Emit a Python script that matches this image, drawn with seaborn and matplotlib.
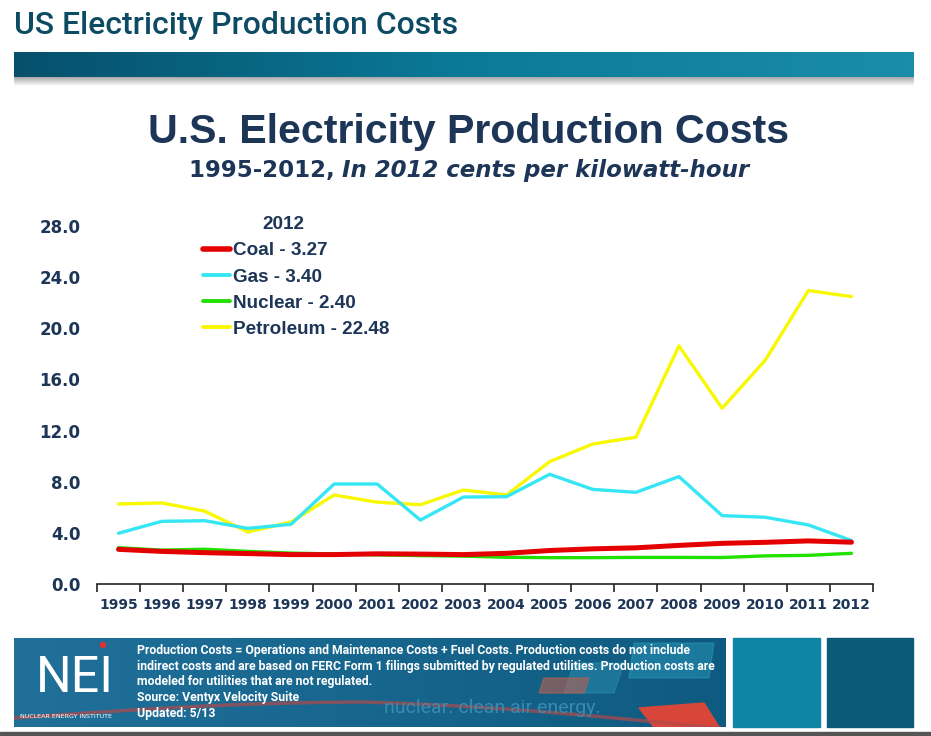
import numpy as np
import pandas as pd
import matplotlib
matplotlib.use("Agg")
import matplotlib.pyplot as plt
import seaborn as sns
from matplotlib.patches import Rectangle, Polygon
from matplotlib.colors import LinearSegmentedColormap
from matplotlib.lines import Line2D

years = [str(y) for y in range(1995, 2013)]
coal = [2.71, 2.55, 2.45, 2.38, 2.30, 2.30, 2.36, 2.34, 2.30, 2.40, 2.62, 2.75, 2.83, 3.02, 3.18, 3.26, 3.37, 3.27]
gas = [3.97, 4.90, 4.95, 4.35, 4.67, 7.82, 7.82, 5.00, 6.80, 6.83, 8.58, 7.40, 7.17, 8.40, 5.35, 5.22, 4.62, 3.40]
nuclear = [2.84, 2.65, 2.72, 2.55, 2.42, 2.35, 2.28, 2.22, 2.18, 2.09, 2.06, 2.06, 2.08, 2.08, 2.07, 2.20, 2.24, 2.40]
petroleum = [6.26, 6.34, 5.70, 4.07, 4.85, 6.96, 6.40, 6.20, 7.35, 6.96, 9.57, 10.95, 11.48, 18.62, 13.75, 17.50, 22.95, 22.48]
series_names = ["Coal", "Gas", "Nuclear", "Petroleum"]
legend_title = "2012"
legend_labels = ["Coal - 3.27", "Gas - 3.40", "Nuclear - 2.40", "Petroleum - 22.48"]
yticks = [0, 4, 8, 12, 16, 20, 24, 28]

colors = {"Coal": "#e40000", "Gas": "#36e6f4", "Nuclear": "#22e000", "Petroleum": "#f8f800"}
widths = {"Coal": 3.6, "Gas": 2.4, "Nuclear": 2.4, "Petroleum": 2.4}
NAVY = "#1d3557"

df = pd.DataFrame({
    "year": years * 4,
    "x": list(range(len(years))) * 4,
    "value": coal + gas + nuclear + petroleum,
    "series": sum([[s] * len(years) for s in series_names], []),
})

sns.set_theme(style="white")
plt.rcParams["font.family"] = ["DejaVu Sans"]

fig = plt.figure(figsize=(9.31, 7.36), dpi=100)
W, H = 931, 736
fig.canvas.draw()
R = fig.canvas.get_renderer()


def fx(px):
    return px / W


def fy(py):
    return 1 - py / H


def fit(t, target_px):
    w = t.get_window_extent(R).width
    t.set_fontsize(t.get_fontsize() * target_px / w)
    return t


# ---- header ----
hdr = fig.text(fx(14), fy(26), "US Electricity Production Costs", family=["Roboto", "DejaVu Sans"],
               fontweight="medium", fontsize=24, color="#0d4a63", va="center", ha="left")
fit(hdr, 444)
bar_ax = fig.add_axes([fx(14), fy(86), fx(914 - 14), (86 - 52) / H])
grad = np.linspace(0, 1, 256).reshape(1, -1)
cm_bar = LinearSegmentedColormap.from_list("bar", ["#06506c", "#0a7a98", "#1a8daa"])
bar_ax.imshow(grad, aspect="auto", cmap=cm_bar, extent=[0, 1, 9 / 34, 1])
sh = np.linspace(0, 1, 32).reshape(-1, 1)
cm_sh = LinearSegmentedColormap.from_list("sh", ["#a8a8a8", "#ffffff"])
bar_ax.imshow(sh, aspect="auto", cmap=cm_sh, extent=[0, 1, 0, 9 / 34])
bar_ax.set_xlim(0, 1); bar_ax.set_ylim(0, 1)
bar_ax.axis("off")

# ---- titles ----
tt = fig.text(fx(469), fy(132), "U.S. Electricity Production Costs", fontsize=28,
              family=["Liberation Sans", "DejaVu Sans"], fontweight="bold",
              color=NAVY, ha="center", va="center")
fit(tt, 642)
t1 = fig.text(0, fy(170), "1995-2012, ", fontsize=16.5, fontweight="bold", color=NAVY, ha="left", va="center")
t2 = fig.text(0, fy(170), "In 2012 cents per kilowatt-hour", fontsize=16.5, fontweight="bold", style="italic",
              color=NAVY, ha="left", va="center")
w1 = t1.get_window_extent(R).width
w2 = t2.get_window_extent(R).width
start = 469 - (w1 + w2) / 2
t1.set_x(fx(start))
t2.set_x(fx(start + w1))

# ---- main chart ----
ax = fig.add_axes([fx(97), fy(584), fx(873 - 97), (584 - 226) / H])
order = ["Petroleum", "Gas", "Nuclear", "Coal"]
for s in order:
    sub = df[df["series"] == s]
    sns.lineplot(data=sub, x="x", y="value", color=colors[s], lw=widths[s], ax=ax, legend=False)
ax.set_xlim(-0.5, len(years) - 0.5)
ax.set_ylim(0, 28)
ax.set_yticks(yticks)
ax.set_yticklabels([f"{v:.1f}" for v in yticks], fontsize=12, fontweight="bold", color=NAVY)
ax.set_xticks(range(len(years)))
ax.set_xticklabels(years, fontsize=10, fontweight="bold", color=NAVY)
ax.set_xticks(np.arange(-0.5, len(years)), minor=True)
ax.tick_params(axis="x", which="major", length=0, pad=10)
ax.tick_params(axis="x", which="minor", length=6, width=1.2, color="#222222", direction="out", bottom=True)
ax.tick_params(axis="y", length=0, pad=12)
ax.set_xlabel(""); ax.set_ylabel("")
for sp in ["top", "right", "left"]:
    ax.spines[sp].set_visible(False)
ax.spines["bottom"].set_color("#222222")
ax.spines["bottom"].set_linewidth(1.2)
ax.grid(False)

# legend font sized so the longest label matches the reference width
probe = fig.text(0, 0, legend_labels[-1], fontsize=12, fontweight="bold",
                 family=["Liberation Sans", "DejaVu Sans"])
fit(probe, 156)
lsize = probe.get_fontsize()
probe.remove()
handles = [Line2D([0], [0], color=colors[s], lw=widths[s] + 0.4) for s in series_names]
leg = ax.legend(handles, legend_labels, loc="upper left",
                bbox_to_anchor=(fx(186), fy(225)), bbox_transform=fig.transFigure,
                frameon=False, handlelength=1.45, handletextpad=0.15, labelspacing=0.48,
                prop={"weight": "bold", "size": lsize, "family": ["Liberation Sans", "DejaVu Sans"]})
for t in leg.get_texts():
    t.set_color(NAVY)
fig.text(fx(283), fy(225), legend_title, fontsize=lsize, fontweight="bold", color=NAVY,
         family=["Liberation Sans", "DejaVu Sans"], ha="center", va="center")

# ---- footer ----
fa = fig.add_axes([fx(14), fy(727), fx(726 - 14), (727 - 638) / H])
fa.set_xlim(0, 712); fa.set_ylim(89, 0)
fg = np.linspace(0, 1, 256).reshape(1, -1)
cm_f = LinearSegmentedColormap.from_list("f", ["#21709a", "#17668e", "#0f5a80"])
fa.imshow(fg, aspect="auto", cmap=cm_f, extent=[0, 712, 89, 0])
xs = np.linspace(0, 712, 200)
fa.plot(xs, 80 - 16 * np.sin(xs / 712 * np.pi) + 0.03 * (xs - 350) * (xs > 350), color="#b04a4a", lw=2.5, alpha=0.7)
fa.add_patch(Polygon([[560, 25], [610, 25], [600, 55], [550, 55]], color="#2a8fb0", alpha=0.5))
fa.add_patch(Polygon([[620, 5], [700, 5], [695, 40], [615, 40]], color="#2aa0c0", alpha=0.45))
fa.add_patch(Polygon([[530, 40], [575, 40], [570, 55], [525, 55]], color="#b86050", alpha=0.6))
fa.add_patch(Polygon([[625, 70], [690, 65], [705, 89], [640, 89]], color="#d8463a"))
fa.text(370, 70, "nuclear. clean air energy.", fontsize=14, color="#3d8fb5", ha="left", va="center",
        family=["Roboto", "DejaVu Sans"], alpha=0.9)
nei = fa.text(22, 40, "NEI", fontsize=40, color="white", ha="left", va="center",
              family=["Roboto", "DejaVu Sans"], fontweight="normal")
fit(nei, 78)
fa.add_patch(plt.Circle((89, 7), 2.5, color="#e03030"))
fa.text(6, 78, "NUCLEAR ENERGY INSTITUTE", fontsize=4.6, color="white", ha="left", va="center")
foot_lines = [
    "Production Costs = Operations and Maintenance Costs + Fuel Costs. Production costs do not include",
    "indirect costs and are based on FERC Form 1 filings submitted by regulated utilities. Production costs are",
    "modeled for utilities that are not regulated.",
    "Source: Ventyx Velocity Suite",
    "Updated: 5/13",
]
ft = []
for i, line in enumerate(foot_lines):
    ft.append(fa.text(123, 12.5 + i * 15.7, line, fontsize=9, color="white", fontweight="bold", ha="left",
                      va="center", family=["Roboto", "DejaVu Sans"]))
fit(ft[1], 577)
for t in ft:
    t.set_fontsize(ft[1].get_fontsize())
fa.axis("off")

fig.add_artist(Rectangle((fx(733), fy(727)), fx(820 - 733), (727 - 638) / H, color="#0e86a3", transform=fig.transFigure))
fig.add_artist(Rectangle((fx(827), fy(727)), fx(913 - 827), (727 - 638) / H, color="#0b5a78", transform=fig.transFigure))
fig.add_artist(Rectangle((0, fy(735)), 1, 3 / H, color="#555555", transform=fig.transFigure))

fig.savefig("out.png", dpi=100)
